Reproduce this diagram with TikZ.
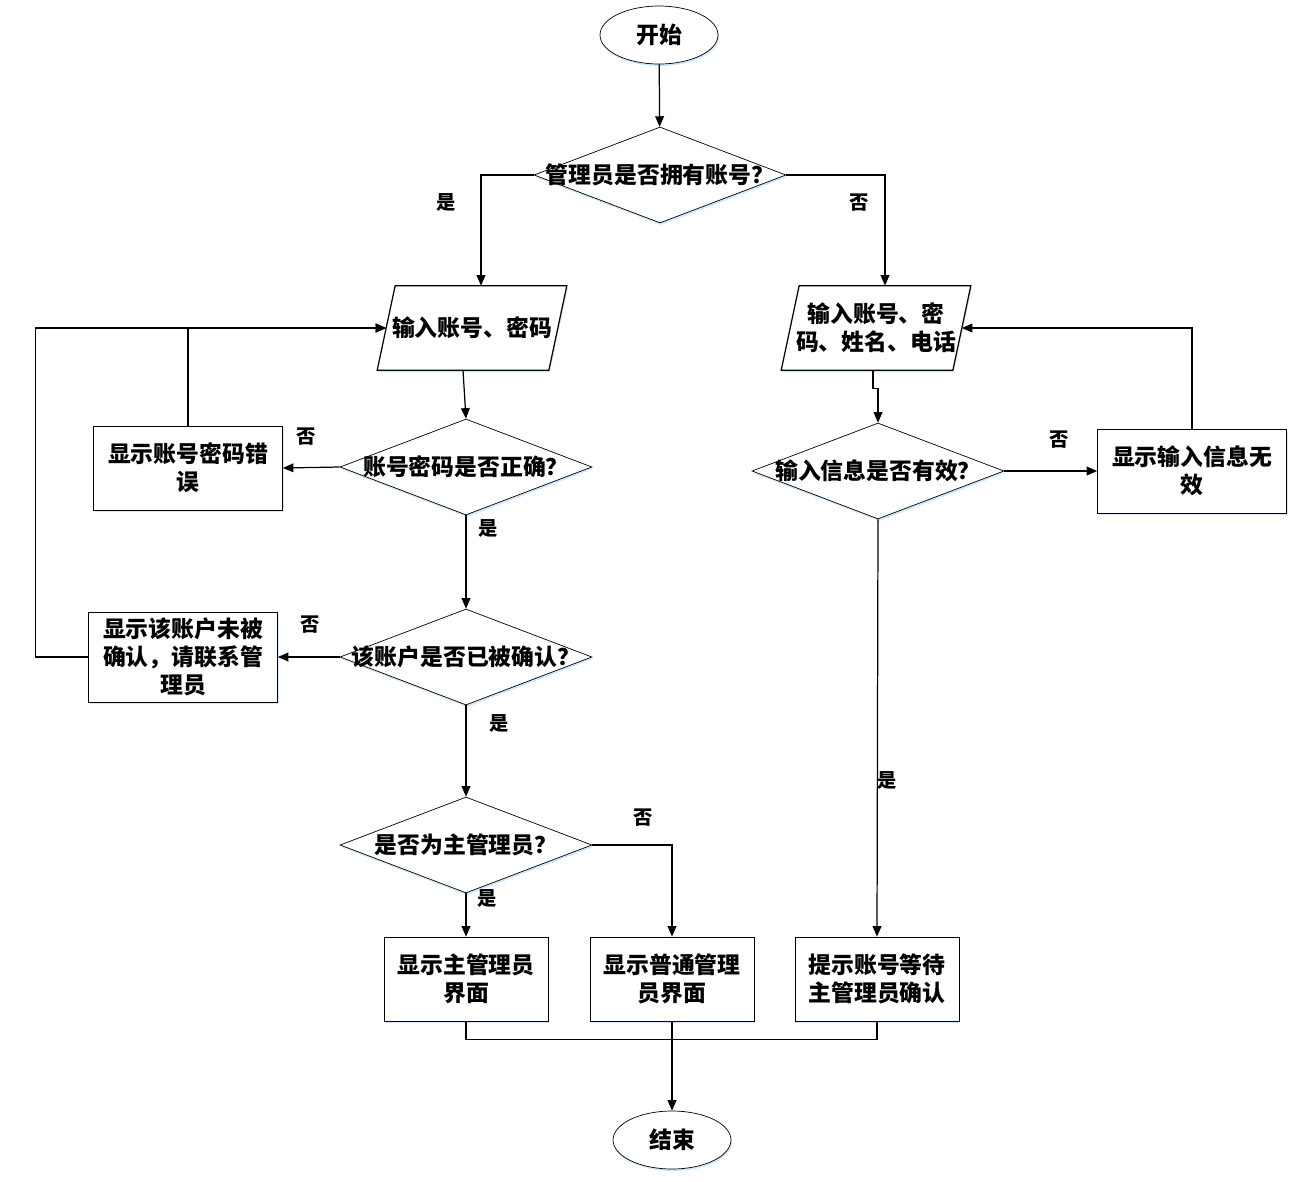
\documentclass[tikz,border=0pt]{standalone}
\usepackage{fontspec}
\setmainfont{Noto Sans CJK SC}
\usetikzlibrary{shapes.geometric,arrows.meta,shadows,backgrounds}
\begin{document}
\begin{tikzpicture}[x=0.02cm,y=-0.02cm,
    font=\fontsize{13}{16}\selectfont\bfseries,
    line/.style={draw, line width=0.7pt},
    arr/.style={line, -{Triangle[length=6pt,width=5pt]}},
    shade/.style={drop shadow={shadow xshift=0.6pt, shadow yshift=-1.2pt, fill=blue!50!cyan, opacity=0.18}},
    term/.style={ellipse, draw, fill=white, shade, minimum width=2.36cm, minimum height=1.16cm},
    dia/.style={diamond, draw, fill=white, shade, minimum width=5.04cm, minimum height=1.92cm, inner sep=0pt},
    io/.style={rectangle, minimum width=3.42cm, minimum height=1.68cm, align=center, inner sep=0pt},
    proc/.style={rectangle, draw, fill=white, shade, minimum width=3.28cm, minimum height=1.68cm, align=center},
    wide/.style={proc, minimum width=3.78cm},
    yn/.style={font=\fontsize{11}{13}\selectfont\bfseries}]
  \useasboundingbox (0,0) rectangle (1295,1181);

  % nodes
  \node[term] (start) at (659,35) {开始};
  \node[dia, label={center:管理员是否拥有账号？}] (d1) at (660,175) {};
  \node[io] (in1) at (472,328) {输入账号、密码};
  \node[io] (in2) at (876,328) {输入账号、密\\码、姓名、电话};
  \node[dia, label={center:账号密码是否正确？}] (d2) at (466,467) {};
  \node[wide] (err1) at (188,468) {显示账号密码错\\误};
  \node[dia, label={center:该账户是否已被确认？}] (d3) at (466,657) {};
  \node[wide] (err2) at (183,657) {显示该账户未被\\确认，请联系管\\理员};
  \node[dia, label={center:是否为主管理员？}] (d4) at (466,845) {};
  \node[dia, label={center:输入信息是否有效？}] (d5) at (878,471) {};
  \node[wide] (err3) at (1192,471) {显示输入信息无\\效};
  \node[proc] (b1) at (466,979) {显示主管理员\\界面};
  \node[proc] (b2) at (672,979) {显示普通管理\\员界面};
  \node[proc] (b3) at (877,979) {提示账号等待\\主管理员确认};
  \node[term] (end) at (672,1140) {结束};

  % slanted input boxes
  \begin{scope}[on background layer]
    \foreach \n in {in1,in2}
      \draw[line, fill=white, shade] ([xshift=0.18cm]\n.north west) -- ([xshift=0.18cm]\n.north east)
        -- ([xshift=-0.18cm]\n.south east) -- ([xshift=-0.18cm]\n.south west) -- cycle;
  \end{scope}

  % connectors
  \draw[arr] (start) -- (d1);
  \draw[arr] (d1.west) -| ([xshift=0.18cm]in1.north);
  \draw[arr] (d1.east) -| ([xshift=0.18cm]in2.north);
  \draw[arr] ([xshift=-0.18cm]in1.south) -- (d2.north);
  \draw[arr] (d2.west) -- (err1.east);
  \draw[arr] (err1.north) |- (in1.west);
  \draw[arr] (d2.south) -- (d3.north);
  \draw[arr] (d3.west) -- (err2.east);
  \draw[arr] (err2.west) -- ++(-53,0) |- (in1.west);
  \draw[arr] (d3.south) -- (d4.north);
  \draw[arr] (d4.south) -- (b1.north);
  \draw[arr] (d4.east) -| (b2.north);
  \draw[arr] ([xshift=-0.06cm]in2.south) -- ++(0,18) -| (d5.north);
  \draw[arr] (d5.east) -- (err3.west);
  \draw[arr] (err3.north) |- (in2.east);
  \draw[arr] (d5.south) -- (b3.north);
  \draw[line] (b1.south) -- ++(0,18) -| (b3.south);
  \draw[arr] (b2.south) -- (end.north);

  % labels
  \node[yn] (y1) at (446,202) {是};
  \node[yn] (n1) at (859,203) {否};
  \node[yn] (n2) at (306,437) {否};
  \node[yn] (y2) at (488,528) {是};
  \node[yn] (n3) at (310,625) {否};
  \node[yn] (y3) at (499,723) {是};
  \node[yn] (n4) at (643,818) {否};
  \node[yn] (y4) at (487,898) {是};
  \node[yn] (n5) at (1059,440) {否};
  \node[yn] (y5) at (887,780) {是};
\end{tikzpicture}
\end{document}
